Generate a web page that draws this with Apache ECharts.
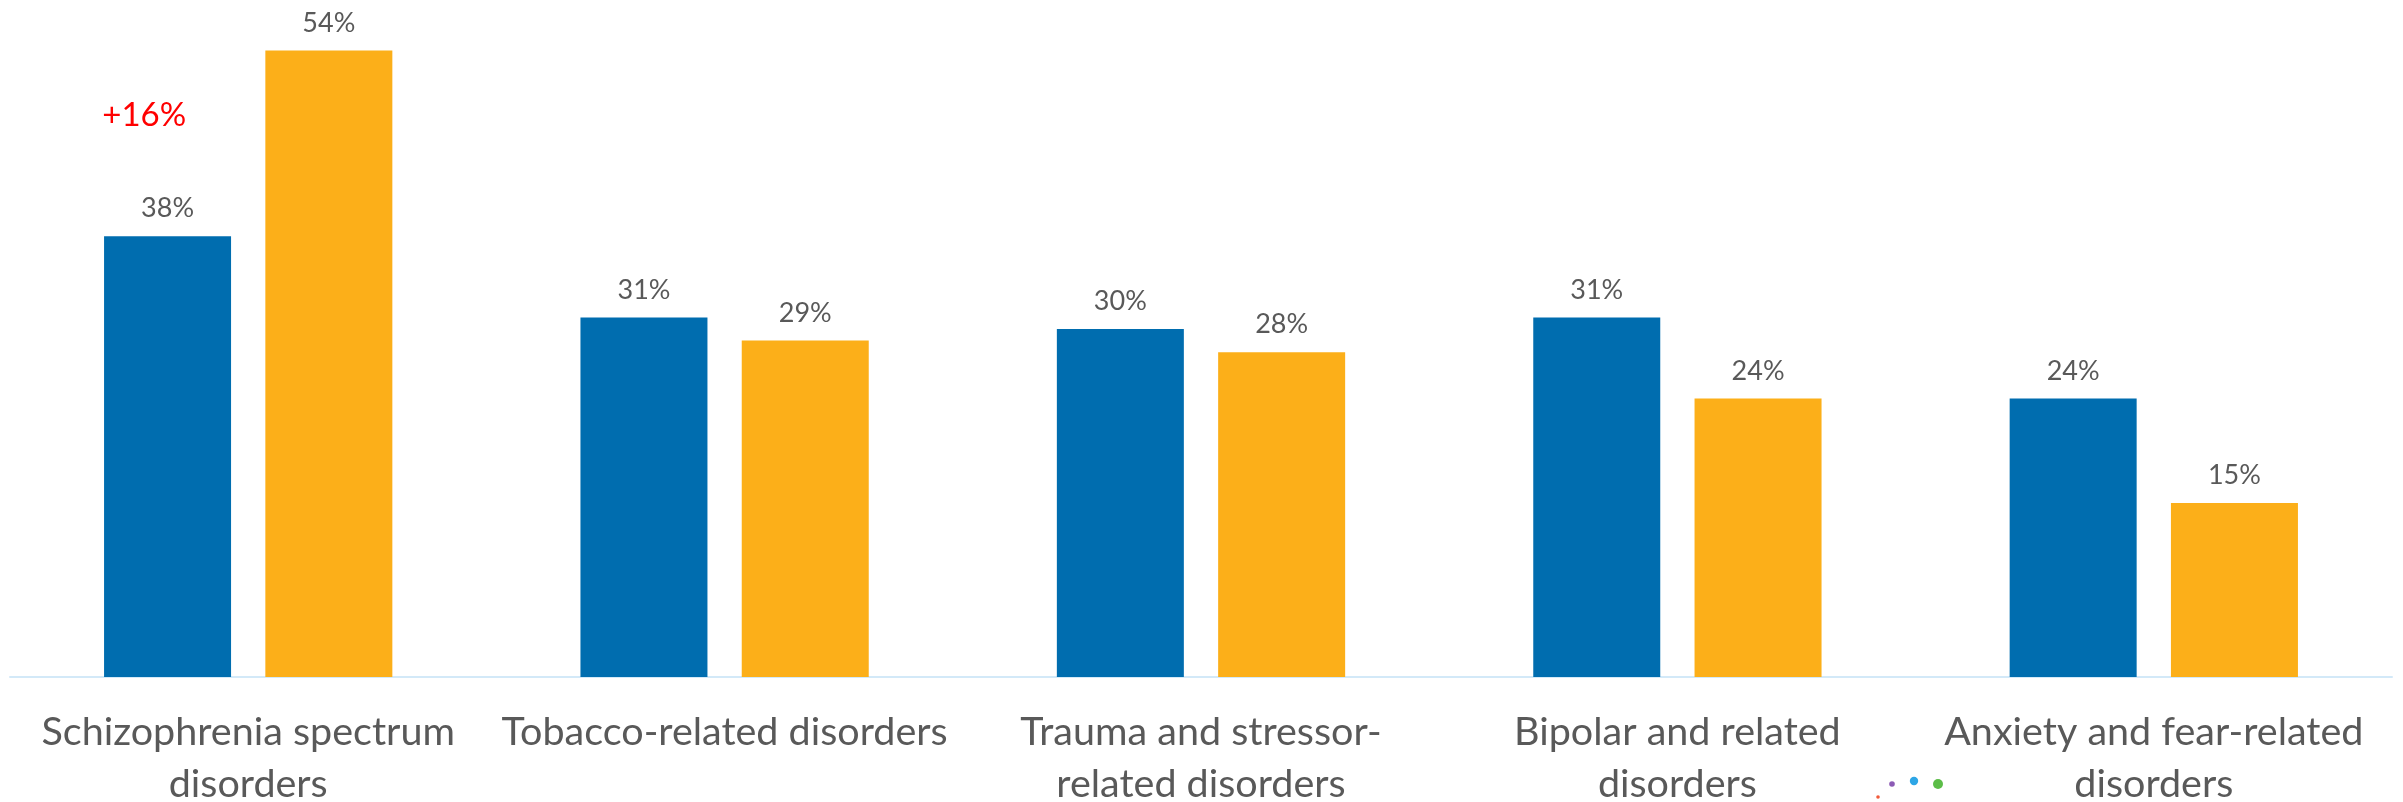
<!DOCTYPE html>
<html>
<head>
<meta charset="utf-8">
<script src="https://cdn.jsdelivr.net/npm/echarts@6/dist/echarts.min.js"></script>
<style>html,body{margin:0;padding:0;background:#fff;}#c{width:2403px;height:802px;}</style>
</head>
<body>
<div id="c"></div>
<script>
var categories = ["Schizophrenia spectrum\ndisorders", "Tobacco-related disorders", "Trauma and stressor-\nrelated disorders", "Bipolar and related\ndisorders", "Anxiety and fear-related\ndisorders"];
var seriesA = [38, 31, 30, 31, 24];
var seriesB = [54, 29, 28, 24, 15];
var annotText = "+16%";
var annotValue = 48.4;

var FONT = "Lato";
var chart = echarts.init(document.getElementById('c'));
chart.setOption({
  animation: false,
  backgroundColor: '#ffffff',
  grid: {left: 10, right: 11, top: 39, bottom: 125, containLabel: false, outerBoundsMode: 'none'},
  xAxis: {
    type: 'category',
    data: categories,
    axisLine: {lineStyle: {color: '#d3e9f8', width: 2}},
    axisTick: {show: false},
    axisLabel: {color: '#595959', fontFamily: FONT, fontSize: 39.5, lineHeight: 52, margin: 29, interval: 0, hideOverlap: false}
  },
  yAxis: {type: 'value', min: 0, max: 55, show: false, splitLine: {show: false}},
  series: [
    {type: 'bar', data: seriesA, barWidth: 127, barGap: '27%', itemStyle: {color: '#006daf'},
     label: {show: true, position: 'top', distance: 14, formatter: '{c}%', color: '#595959', fontFamily: FONT, fontSize: 27}},
    {type: 'bar', data: seriesB, barWidth: 127, barGap: '27%', itemStyle: {color: '#fcaf19'},
     label: {show: true, position: 'top', distance: 14, formatter: '{c}%', color: '#595959', fontFamily: FONT, fontSize: 27}}
  ]
});
var p = chart.convertToPixel({gridIndex: 0}, [0, annotValue]);
chart.setOption({
  graphic: [
    {type: 'text', x: p[0] - 104, y: p[1], style: {text: annotText, fill: '#ff0000', font: '33px Lato', textAlign: 'center', textVerticalAlign: 'middle'}},
    {type: 'circle', shape: {cx: 1878, cy: 797, r: 1.8}, style: {fill: '#f25a3a'}},
    {type: 'circle', shape: {cx: 1892, cy: 784, r: 2.8}, style: {fill: '#8c5bb5'}},
    {type: 'circle', shape: {cx: 1914, cy: 781, r: 4.2}, style: {fill: '#2ea6e6'}},
    {type: 'circle', shape: {cx: 1938, cy: 784, r: 5}, style: {fill: '#5cbd48'}}
  ]
});
</script>
</body>
</html>
